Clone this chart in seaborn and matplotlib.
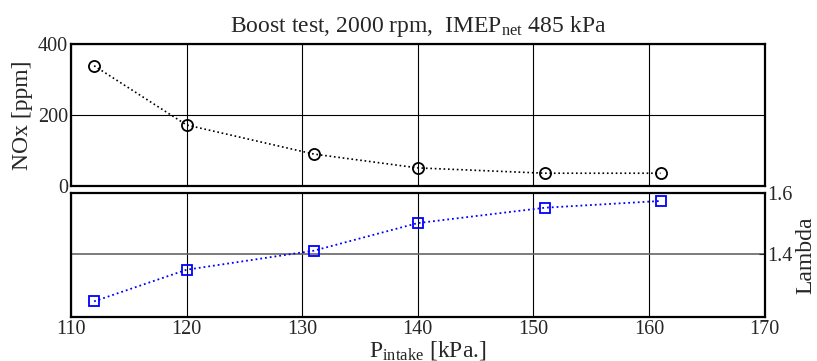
import matplotlib
matplotlib.use("Agg")
from matplotlib import pyplot as plt
import seaborn as sns

p_intake = [112, 120, 131, 140, 151, 161]
nox_ppm = [339, 172, 90, 51, 36, 36]
lambda_vals = [1.247, 1.35, 1.412, 1.502, 1.552, 1.574]

x_ticks = [110, 120, 130, 140, 150, 160, 170]
nox_ticks = [0, 200, 400]
lambda_ticks = [1.4, 1.6]

sns.set_style("white")
plt.rcParams['font.family'] = ['Liberation Serif', 'DejaVu Serif']
plt.rcParams['mathtext.fontset'] = 'custom'
plt.rcParams['mathtext.rm'] = 'Liberation Serif'
plt.rcParams['mathtext.it'] = 'Liberation Serif'

fig = plt.figure(figsize=(8.17, 3.61), dpi=100)
ax1 = fig.add_axes([0.0869, 0.4848, 0.849, 0.393])
ax2 = fig.add_axes([0.0869, 0.1219, 0.849, 0.3435])

sns.lineplot(ax=ax1, x=p_intake, y=nox_ppm, color="k", linestyle=":", lw=1.2,
             marker="o", ms=8, mfc="none", mec="k", mew=1.3)
sns.lineplot(ax=ax2, x=p_intake, y=lambda_vals, color="#0000ff", linestyle=":", lw=1.3,
             marker="s", ms=7, mfc="none", mec="#0000ff", mew=1.3)

for ax in (ax1, ax2):
    ax.set_xlim(110, 170)
    ax.set_xticks(x_ticks)
    ax.grid(True, color="k", lw=0.8)
    ax.tick_params(direction="in", length=4, width=0.8, labelsize=14.5, pad=2)
    for s in ax.spines.values():
        s.set_linewidth(1.6)
        s.set_color("k")

ax1.set_ylim(0, 400)
ax1.set_yticks(nox_ticks)
ax1.set_xticklabels([])
ax1.set_ylabel("NOx [ppm]", fontsize=17, labelpad=4)
ax1.set_title("Boost test, 2000 rpm,  IMEP$_{\\mathrm{net}}$ 485 kPa", fontsize=17, pad=9)

ax2.set_ylim(1.196, 1.6)
ax2.set_yticks(lambda_ticks)
ax2.yaxis.tick_right()
ax2.yaxis.set_label_position("right")
ax2.set_ylabel("Lambda", fontsize=17, labelpad=2)
ax2.grid(True, axis="y", color="#666666", lw=1.2)
ax2.set_xlabel("P$_{\\mathrm{intake}}$ [kPa.]", fontsize=17)
ax2.xaxis.set_label_coords(0.515, -0.175)

plt.savefig("out.png", dpi=100)
